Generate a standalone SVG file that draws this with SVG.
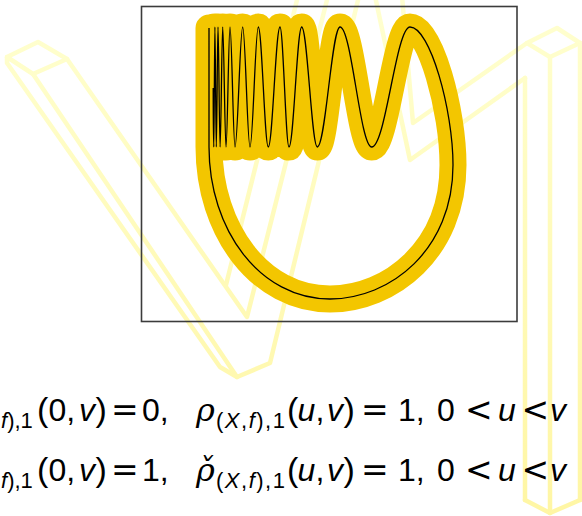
<svg xmlns="http://www.w3.org/2000/svg" width="582" height="516" viewBox="0 0 582 516">
<defs>
<linearGradient id="wm" gradientUnits="userSpaceOnUse" x1="0" y1="0" x2="0" y2="516">
<stop offset="0" stop-color="#ffffd0"/>
<stop offset="1" stop-color="#fff6a4"/>
</linearGradient>
<style>
.wm{fill:none;stroke:url(#wm);stroke-width:4.5;stroke-linecap:round;stroke-linejoin:round}
.frame{fill:none;stroke:#3c3c3c;stroke-width:1.6}
.halo{fill:none;stroke:#f3c600;stroke-width:27;stroke-linecap:round;stroke-linejoin:round}
.core{fill:none;stroke:#000;stroke-width:1.3;stroke-linejoin:round}
.t{font-family:"Liberation Sans",Arial,sans-serif;font-size:32px;fill:#000}
.it{font-style:italic}
.sub{font-size:22px}
.par{font-size:34px}
.rel{font-family:"DejaVu Sans",sans-serif;font-size:33px}
.rho{font-family:"DejaVu Serif","Liberation Serif",serif;font-style:italic;font-size:32px}
</style>
</defs>
<rect width="582" height="516" fill="#fff"/>
<g id="watermark">
<polygon class="wm" points="7,57 38,42 67,59 33,74"/>
<polyline class="wm" points="7,57 7,63 220,367 237,377 270,363 359,-4"/>
<line class="wm" x1="33" y1="74" x2="237" y2="377"/>
<polyline class="wm" points="67,59 247,317 328,-4"/>
<line class="wm" x1="226" y1="285" x2="298" y2="-4"/>
<polyline class="wm" points="402,-4 413,123 527,43"/>
<polyline class="wm" points="375,-4 410,160 525,78"/>
<polygon class="wm" points="527,43 557,28 580,43 550,57"/>
<line class="wm" x1="525" y1="78" x2="525" y2="500"/>
<line class="wm" x1="550" y1="57" x2="550" y2="513"/>
<line class="wm" x1="580" y1="43" x2="580" y2="500"/>
<polyline class="wm" points="525,500 550,513 580,500"/>
</g>
<g id="frame"><rect class="frame" x="141.5" y="6.5" width="375.5" height="315"/></g>
<g id="curve">
<path d="M209,28 L209,147 C209,230 260,299 330,299 C390,299 453,250 453,165 C453,110 430,27 410,27 C396.08,27 385.62,147 371.7,147 C360.18,147 351.52,27 340,27 C331.75,27 325.55,147 317.3,147 C311.63,147 307.37,27 301.7,27 C297.08,27 293.62,147 289,147 C285.73,147 283.27,27 280,27 C275.75,27 272.55,147 268.3,147 C264.67,147 261.93,27 258.3,27 C255.28,27 253.02,147 250,147 C247.35,147 245.35,27 242.7,27 C239.9,27 237.8,147 235,147 C233.18,147 231.82,27 230,27 C228.55,27 227.45,147 226,147 C224.8,147 223.9,27 222.7,27 C221.76,27 221.04,147 220.1,147 C219.34,147 218.76,27 218,27 C217.38,27 216.92,147 216.3,147 C215.79,147 215.41,27 214.9,27 C214.5,27 214.2,147 213.8,147 C213.5,147 213.2,115 213.2,88" class="halo"/>
<path d="M209,28 L209,147 C209,230 260,299 330,299 C390,299 453,250 453,165 C453,110 430,27 410,27 C396.08,27 385.62,147 371.7,147 C360.18,147 351.52,27 340,27 C331.75,27 325.55,147 317.3,147 C311.63,147 307.37,27 301.7,27 C297.08,27 293.62,147 289,147 C285.73,147 283.27,27 280,27 C275.75,27 272.55,147 268.3,147 C264.67,147 261.93,27 258.3,27 C255.28,27 253.02,147 250,147 C247.35,147 245.35,27 242.7,27 C239.9,27 237.8,147 235,147 C233.18,147 231.82,27 230,27 C228.55,27 227.45,147 226,147 C224.8,147 223.9,27 222.7,27 C221.76,27 221.04,147 220.1,147 C219.34,147 218.76,27 218,27 C217.38,27 216.92,147 216.3,147 C215.79,147 215.41,27 214.9,27 C214.5,27 214.2,147 213.8,147 C213.5,147 213.2,115 213.2,88" class="core"/>
</g>
<g id="line1">
<text class="t sub" x="1" y="428"><tspan class="it">f</tspan>),1</text>
<text class="t par" x="37" y="421">(</text>
<text class="t" x="48.5" y="421">0,</text>
<text class="t it" x="79" y="421">v</text>
<text class="t par" x="95.5" y="421">)</text>
<text class="rel" x="111" y="421">=</text>
<text class="t" x="142" y="421">0,</text>
<text class="rho" x="196" y="421">ρ</text>
<text class="t sub" x="216" y="428" textLength="69" lengthAdjust="spacing">(<tspan class="it">X</tspan>,<tspan class="it">f</tspan>),1</text>
<text class="t par" x="287" y="421">(</text>
<text class="t it" x="297.5" y="421">u</text>
<text class="t" x="315.5" y="421">,</text>
<text class="t it" x="327" y="421">v</text>
<text class="t par" x="343.5" y="421">)</text>
<text class="rel" x="361" y="421">=</text>
<text class="t" x="398" y="421">1,</text>
<text class="t" x="437" y="421">0</text>
<text class="rel" x="465" y="421">&lt;</text>
<text class="t it" x="498" y="421">u</text>
<text class="rel" x="521.5" y="421">&lt;</text>
<text class="t it" x="550" y="421">v</text>
</g>
<g id="line2">
<text class="t sub" x="1" y="488"><tspan class="it">f</tspan>),1</text>
<text class="t par" x="37" y="481">(</text>
<text class="t" x="48.5" y="481">0,</text>
<text class="t it" x="79" y="481">v</text>
<text class="t par" x="95.5" y="481">)</text>
<text class="rel" x="111" y="481">=</text>
<text class="t" x="142" y="481">1,</text>
<text class="rho" x="196" y="481">ρ̌</text>
<text class="t sub" x="216" y="488" textLength="69" lengthAdjust="spacing">(<tspan class="it">X</tspan>,<tspan class="it">f</tspan>),1</text>
<text class="t par" x="287" y="481">(</text>
<text class="t it" x="297.5" y="481">u</text>
<text class="t" x="315.5" y="481">,</text>
<text class="t it" x="327" y="481">v</text>
<text class="t par" x="343.5" y="481">)</text>
<text class="rel" x="361" y="481">=</text>
<text class="t" x="398" y="481">1,</text>
<text class="t" x="437" y="481">0</text>
<text class="rel" x="465" y="481">&lt;</text>
<text class="t it" x="498" y="481">u</text>
<text class="rel" x="521.5" y="481">&lt;</text>
<text class="t it" x="550" y="481">v</text>
</g>
</svg>
